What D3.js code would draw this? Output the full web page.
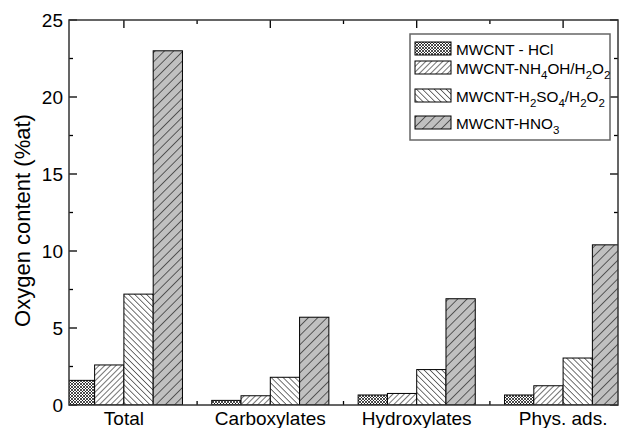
<!DOCTYPE html>
<html>
<head>
<meta charset="utf-8">
<script src="https://cdn.jsdelivr.net/npm/d3@7"></script>
<style>
  html, body { margin: 0; padding: 0; background: #fff; }
  svg { display: block; font-family: "Liberation Sans", Arial, sans-serif; }
</style>
</head>
<body>
<svg id="chart" width="619" height="428"></svg>
<script>
// Oxygen content of treated MWCNT samples by oxygen group
const categories = ["Total", "Carboxylates", "Hydroxylates", "Phys. ads."];
const seriesKeys = ["hcl", "nh4", "h2so4", "hno3"];
const hcl   = [1.6, 0.3, 0.65, 0.65];
const nh4   = [2.6, 0.6, 0.75, 1.25];
const h2so4 = [7.2, 1.8, 2.3, 3.05];
const hno3  = [23.0, 5.7, 6.9, 10.4];
const yTicks = [0, 5, 10, 15, 20, 25];

const values = { hcl, nh4, h2so4, hno3 };

const svg = d3.select("#chart");
const plot = { left: 69, right: 618, top: 20, bottom: 405 };

// categories sit at integer positions 1..4 on a linear axis
const x = d3.scaleLinear().domain([0.625, 4.375]).range([plot.left, plot.right]);
const y = d3.scaleLinear().domain([0, 25]).range([plot.bottom, plot.top]);
const barW = 0.2;
const offsets = [-0.3, -0.1, 0.1, 0.3];

// fill patterns
const defs = svg.append("defs");
function hatch(id, angle, gap, bg, sw) {
  const p = defs.append("pattern").attr("id", id)
    .attr("patternUnits", "userSpaceOnUse")
    .attr("width", gap).attr("height", gap)
    .attr("patternTransform", `rotate(${angle})`);
  p.append("rect").attr("width", gap).attr("height", gap).attr("fill", bg);
  p.append("line").attr("x1", 0).attr("y1", 0).attr("x2", 0).attr("y2", gap)
    .attr("stroke", "#000").attr("stroke-width", sw);
}
hatch("p-nh4", 45, 4, "#fff", 1.1);
hatch("p-h2so4", -45, 4.2, "#fff", 1.1);
hatch("p-hno3", 45, 6.6, "#c0c0c0", 1.1);
{
  const p = defs.append("pattern").attr("id", "p-hcl")
    .attr("patternUnits", "userSpaceOnUse").attr("width", 3).attr("height", 3);
  p.append("rect").attr("width", 3).attr("height", 3).attr("fill", "#fff");
  p.append("path").attr("d", "M0,0L3,3M3,0L0,3").attr("stroke", "#000").attr("stroke-width", 0.7);
}
const fills = { hcl: "url(#p-hcl)", nh4: "url(#p-nh4)", h2so4: "url(#p-h2so4)", hno3: "url(#p-hno3)" };

defs.append("clipPath").attr("id", "plot-clip").append("rect")
  .attr("x", plot.left).attr("y", plot.top)
  .attr("width", plot.right - plot.left).attr("height", plot.bottom - plot.top);

// inward ticks on all four sides
const tickG = svg.append("g").attr("stroke", "#000").attr("stroke-width", 1.3);
d3.range(0, 25.01, 2.5).forEach(v => {
  const len = v % 5 === 0 ? 8 : 4;
  tickG.append("line").attr("x1", plot.left).attr("x2", plot.left + len).attr("y1", y(v)).attr("y2", y(v));
  tickG.append("line").attr("x1", plot.right).attr("x2", plot.right - len).attr("y1", y(v)).attr("y2", y(v));
});
d3.range(1, 4.01, 0.5).forEach(v => {
  const len = Number.isInteger(v) ? 8 : 4;
  tickG.append("line").attr("x1", x(v)).attr("x2", x(v)).attr("y1", plot.top).attr("y2", plot.top + len);
  tickG.append("line").attr("x1", x(v)).attr("x2", x(v)).attr("y1", plot.bottom).attr("y2", plot.bottom - len);
});

// bars
const barsG = svg.append("g").attr("clip-path", "url(#plot-clip)");
seriesKeys.forEach((k, si) => {
  barsG.selectAll(null).data(values[k]).enter().append("rect")
    .attr("x", (d, i) => x(i + 1 + offsets[si] - barW / 2))
    .attr("width", x(barW) - x(0))
    .attr("y", d => y(d))
    .attr("height", d => y(0) - y(d))
    .attr("fill", fills[k])
    .attr("stroke", "#000").attr("stroke-width", 1);
});

// frame
svg.append("rect").attr("x", plot.left).attr("y", plot.top)
  .attr("width", plot.right - plot.left).attr("height", plot.bottom - plot.top)
  .attr("fill", "none").attr("stroke", "#333").attr("stroke-width", 1.5);

// y tick labels
svg.append("g").selectAll("text").data(yTicks).enter().append("text")
  .attr("x", 63).attr("y", d => y(d) + 7)
  .attr("text-anchor", "end").attr("font-size", 19).attr("fill", "#000")
  .text(d => d);

// category labels
svg.append("g").selectAll("text").data(categories).enter().append("text")
  .attr("x", (d, i) => x(i + 1)).attr("y", 425)
  .attr("text-anchor", "middle").attr("font-size", 19).attr("fill", "#000")
  .text(d => d);

// y axis title
svg.append("text")
  .attr("transform", `translate(30,${(plot.top + plot.bottom) / 2 + 8}) rotate(-90)`)
  .attr("text-anchor", "middle").attr("font-size", 22).attr("fill", "#000")
  .text("Oxygen content (%at)");

// legend
const legendLabels = [
  [["MWCNT - HCl", 0]],
  [["MWCNT-NH", 0], ["4", 1], ["OH/H", 0], ["2", 1], ["O", 0], ["2", 1]],
  [["MWCNT-H", 0], ["2", 1], ["SO", 0], ["4", 1], ["/H", 0], ["2", 1], ["O", 0], ["2", 1]],
  [["MWCNT-HNO", 0], ["3", 1]]
];
const legendRowY = [42, 61, 89, 116];
const lg = svg.append("g");
lg.append("rect").attr("x", 410).attr("y", 34).attr("width", 200).attr("height", 106)
  .attr("fill", "#fff").attr("stroke", "#666").attr("stroke-width", 1.5);
seriesKeys.forEach((k, i) => {
  const ry = legendRowY[i];
  lg.append("rect").attr("x", 415).attr("y", ry).attr("width", 36).attr("height", 13)
    .attr("fill", fills[k]).attr("stroke", "#000").attr("stroke-width", 1);
  const t = lg.append("text").attr("x", 456).attr("y", ry + 13)
    .attr("font-size", 15.3).attr("fill", "#000");
  let sub = false;
  legendLabels[i].forEach(([s, isSub]) => {
    const ts = t.append("tspan").text(s);
    if (isSub && !sub) { ts.attr("dy", 4.5).attr("font-size", 11.5); sub = true; }
    else if (isSub && sub) { ts.attr("font-size", 11.5); }
    else if (!isSub && sub) { ts.attr("dy", -4.5); sub = false; }
  });
});
</script>
</body>
</html>
